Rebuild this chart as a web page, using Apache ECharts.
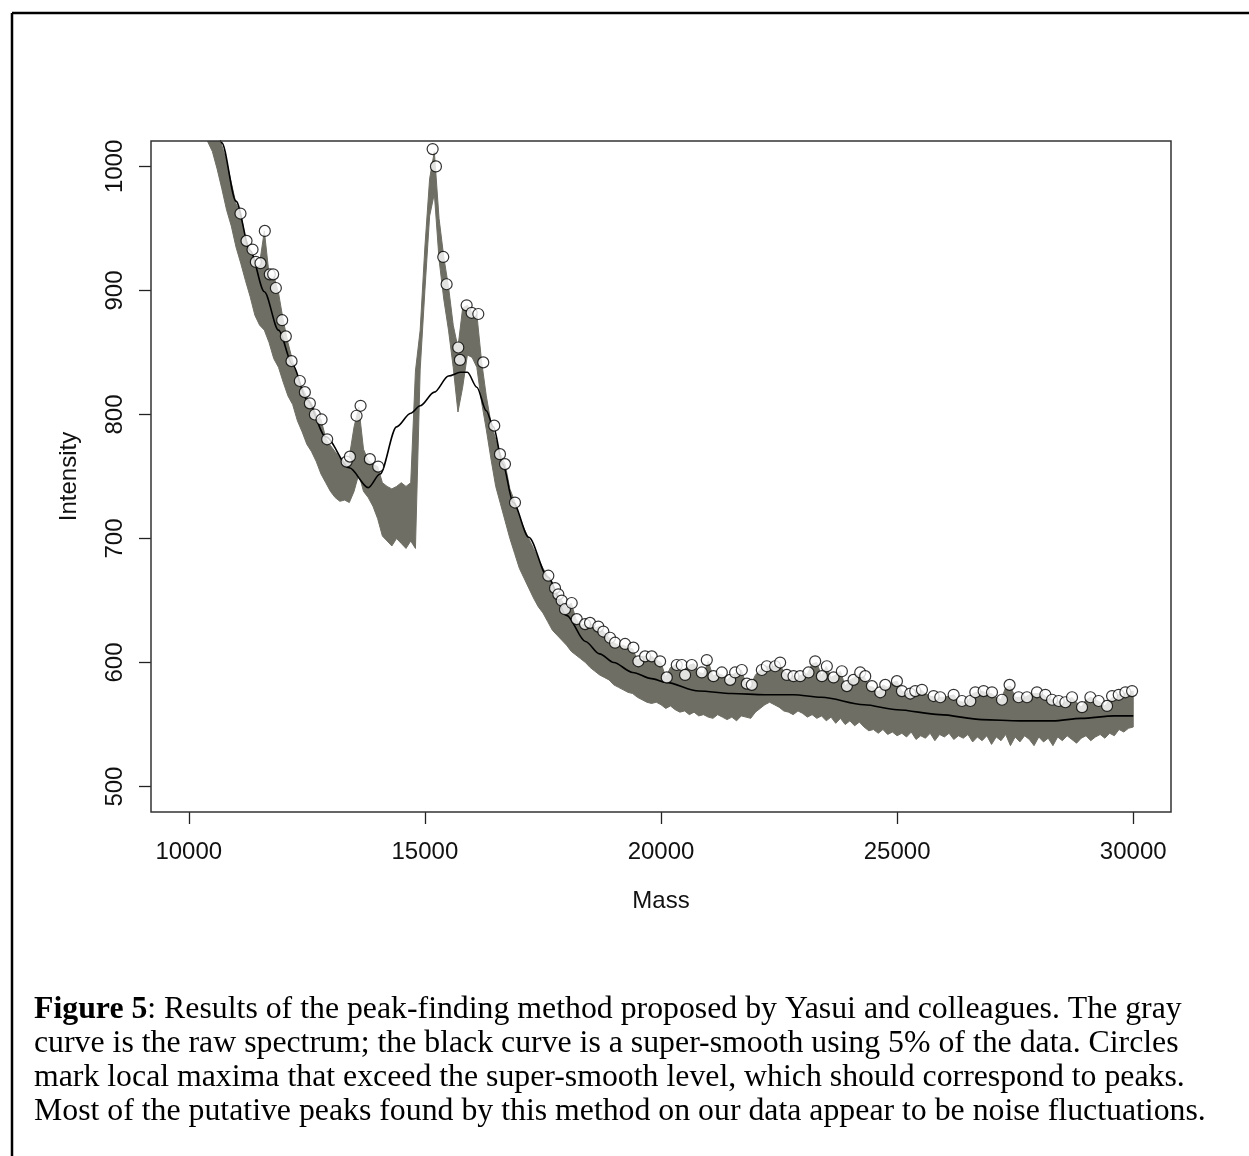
<!DOCTYPE html>
<html>
<head>
<meta charset="utf-8">
<script src="https://cdn.jsdelivr.net/npm/echarts@6.0.0/dist/echarts.min.js"></script>
<style>
  html, body { margin: 0; padding: 0; background: #fff; }
  #chart { width: 1249px; height: 1156px; }
</style>
</head>
<body>
<div id="chart"></div>
<script>
// raw spectrum, sampled every 100 Da from 10000 to 30000 (upper / lower edge of the gray trace)
var massStart = 10000;
var massStep = 100;
var rawHigh = [
  1112, 1097, 1083, 1069, 1055, 1042, 1030, 1017, 1004, 987,
  970, 962, 942, 933, 923, 922, 948, 913, 912, 898,
  876, 858, 843, 830, 822, 814, 809, 800, 796, 781,
  775, 770, 765, 762, 766, 790, 806, 772, 763, 760,
  758, 745, 742, 740, 742, 745, 742, 745, 835, 868,
  935, 990, 1012, 958, 927, 903, 872, 854, 886, 888,
  882, 881, 843, 815, 793, 780, 768, 760, 740, 730,
  718, 708, 700, 692, 684, 676, 670, 662, 656, 650,
  644, 648, 635, 630, 631, 632, 628, 629, 624, 620,
  616, 614, 614, 612, 611, 602, 605, 605, 605, 602,
  600, 588, 596, 598, 597, 593, 598, 599, 592, 591,
  601, 589, 591, 590, 586, 590, 592, 594, 583, 582,
  590, 594, 597, 597, 597, 599, 593, 590, 589, 589,
  590, 591, 599, 600, 589, 597, 588, 590, 593, 581,
  586, 588, 591, 589, 581, 580, 576, 582, 580, 584,
  585, 577, 575, 575, 577, 578, 575, 573, 572, 572,
  572, 573, 574, 569, 568, 569, 575, 576, 577, 575,
  575, 572, 570, 580, 581, 572, 572, 572, 574, 575,
  575, 574, 571, 570, 569, 567, 569, 572, 568, 564,
  570, 572, 570, 568, 565, 570, 573, 574, 575, 576,
  577
];
var rawLow = [
  1072, 1060, 1046, 1033, 1020, 1012, 998, 982, 965, 952,
  935, 922, 908, 895, 880, 872, 868, 858, 845, 838,
  826, 815, 808, 795, 786, 776, 770, 762, 752, 745,
  738, 733, 730, 731, 729, 738, 752, 738, 733, 726,
  716, 702, 698, 694, 700, 696, 692, 698, 692, 836,
  900, 960, 978, 925, 893, 868, 838, 802, 822, 848,
  846, 838, 810, 788, 764, 742, 728, 714, 700, 688,
  676, 668, 660, 652, 645, 640, 633, 626, 622, 618,
  614, 609, 606, 603, 600, 596, 593, 590, 588, 586,
  582, 580, 578, 576, 575, 572, 570, 568, 567, 568,
  566, 563, 565, 562, 560, 561, 558, 560, 557, 558,
  556, 555, 558, 556, 554, 556, 553, 557, 556, 555,
  560, 563, 566, 568, 566, 564, 561, 560, 558, 561,
  559, 556, 558, 555, 557, 553, 556, 551, 555, 550,
  553, 549, 552, 548, 545, 546, 543, 546, 542, 544,
  541, 543, 540, 544, 538, 541, 539, 543, 537, 542,
  540, 543, 538, 541, 539, 542, 536, 540, 537, 541,
  534, 540, 537, 542, 533, 540, 536, 541, 538, 533,
  540, 536, 539, 533, 540, 537, 541, 538, 535, 539,
  541, 537, 540, 542, 539, 543, 541, 546, 544, 547,
  548
];

// super-smooth curve
var smoothMass = [10000, 10500, 10700, 11000, 11300, 11600, 11900, 12200, 12500, 12900,
  13400, 13800, 14050, 14400, 14700, 14900, 15200, 15500, 15750, 15900,
  16100, 16300, 16450, 16650, 16870, 17200, 17600, 18000, 18400, 18700,
  19000, 19400, 19800, 20100, 20800, 21500, 22200, 22800, 23400, 24300,
  25000, 25900, 26800, 27600, 28300, 28900, 29600, 30000];
var smoothLevel = [1115, 1045, 1019, 972, 932, 899, 868, 840, 812, 782,
  757, 741, 752, 790, 801, 807, 818, 831, 834, 834,
  822, 803, 790, 760, 729, 701, 669, 638, 617, 607,
  600, 592, 587, 584, 577, 575, 574, 574, 572, 566,
  562, 558, 554, 553, 553, 555, 557, 557];

// local maxima above the smooth (circles)
var peakMass = [11095, 11223, 11350, 11420, 11519, 11610, 11716, 11787, 11844, 11978,
  12055, 12176, 12352, 12458, 12564, 12670, 12812, 12931, 13342, 13412,
  13553, 13638, 13835, 14011, 15164, 15234, 15389, 15460, 15707, 15742,
  15884, 15990, 16131, 16236, 16469, 16590, 16696, 16908, 17614, 17756,
  17826, 17897, 17967, 18109, 18215, 18391, 18497, 18673, 18779, 18921,
  19027, 19239, 19415, 19521, 19663, 19804, 19981, 20122, 20334, 20440,
  20510, 20652, 20864, 20970, 21111, 21288, 21464, 21570, 21711, 21817,
  21923, 22135, 22241, 22417, 22523, 22665, 22806, 22947, 23123, 23265,
  23407, 23512, 23654, 23830, 23936, 24077, 24219, 24325, 24466, 24643,
  24749, 24996, 25102, 25278, 25384, 25526, 25773, 25914, 26197, 26373,
  26550, 26656, 26832, 27009, 27221, 27382, 27573, 27750, 27962, 28139,
  28281, 28422, 28563, 28704, 28916, 29093, 29268, 29446, 29552, 29693,
  29834, 29976];
var peakLevel = [962, 940, 933, 923, 922, 948, 913, 913, 902, 876,
  863, 843, 827, 818, 809, 800, 796, 780, 762, 766,
  799, 807, 764, 758, 1014, 1000, 927, 905, 854, 844,
  888, 882, 881, 842, 791, 768, 760, 729, 670, 660,
  655, 650, 643, 648, 635, 631, 632, 629, 625, 620,
  616, 615, 612, 601, 605, 605, 601, 588, 598, 598,
  590, 598, 592, 602, 589, 592, 586, 592, 594, 583,
  582, 594, 597, 597, 600, 590, 589, 589, 592, 601,
  589, 597, 588, 593, 581, 586, 592, 589, 581, 576,
  582, 585, 577, 575, 577, 578, 573, 572, 574, 569,
  569, 576, 577, 576, 570, 582, 572, 572, 576, 574,
  570, 569, 568, 572, 564, 572, 569, 565, 573, 574,
  576, 577];

var xTicks = [10000, 15000, 20000, 25000, 30000];
var yTicks = [500, 600, 700, 800, 900, 1000];

var captionLines = [
  '{b|Figure 5}: Results of the peak-finding method proposed by Yasui and colleagues. The gray',
  'curve is the raw spectrum; the black curve is a super-smooth using 5% of the data. Circles',
  'mark local maxima that exceed the super-smooth level, which should correspond to peaks.',
  'Most of the putative peaks found by this method on our data appear to be noise fluctuations.'
];

var rawColor = '#6e6e64';
var axisFont = 'Liberation Sans, Arial, Helvetica, sans-serif';
var serifFont = 'Liberation Serif, Times New Roman, serif';

var chart = echarts.init(document.getElementById('chart'), null, { renderer: 'canvas' });

var rawMass = rawHigh.map(function (v, i) { return massStart + i * massStep; });
var rawData = rawMass.map(function (m, i) { return [m, rawHigh[i], rawLow[i]]; });
var smoothData = smoothMass.map(function (m, i) { return [m, smoothLevel[i]]; });
var peakData = peakMass.map(function (m, i) { return [m, peakLevel[i]]; });

// gray trace: one polygon, upper edge forward and lower edge back
function renderRaw(params, api) {
  if (params.dataIndex !== 0) return null;
  var pts = [];
  for (var i = 0; i < rawMass.length; i++) pts.push(api.coord([rawMass[i], rawHigh[i]]));
  for (var j = rawMass.length - 1; j >= 0; j--) pts.push(api.coord([rawMass[j], rawLow[j]]));
  return {
    type: 'polygon',
    shape: { points: pts },
    style: { fill: rawColor, stroke: rawColor, lineWidth: 1 }
  };
}

var graphics = [
  { type: 'line', shape: { x1: 12, y1: 13, x2: 1249, y2: 13 }, style: { stroke: '#000', lineWidth: 2.5 } },
  { type: 'line', shape: { x1: 12, y1: 13, x2: 12, y2: 1156 }, style: { stroke: '#000', lineWidth: 2.5 } }
];
captionLines.forEach(function (line, i) {
  graphics.push({
    type: 'text',
    left: 34,
    top: 994 + i * 34,
    style: {
      text: line,
      fill: '#000',
      fontFamily: serifFont,
      fontSize: 31.8,
      rich: {
        b: { fontWeight: 'bold', fontFamily: serifFont, fontSize: 31.8, fill: '#000' }
      }
    }
  });
});

function plainNumber(v) { return String(v); }

var option = {
  backgroundColor: '#fff',
  animation: false,
  grid: {
    left: 151, top: 141, width: 1020, height: 671,
    show: true, z: 10,
    borderColor: '#333', borderWidth: 1.5,
    backgroundColor: 'transparent'
  },
  xAxis: {
    type: 'value',
    min: 9200,
    max: 30800,
    axisLine: { show: false },
    splitLine: { show: false },
    axisTick: { show: true, length: 12, customValues: xTicks, lineStyle: { color: '#222', width: 1.3 } },
    axisLabel: { customValues: xTicks, formatter: plainNumber, margin: 28, fontSize: 24, color: '#111', fontFamily: axisFont },
    name: 'Mass',
    nameLocation: 'middle',
    nameGap: 77,
    nameTextStyle: { fontSize: 24, color: '#111', fontFamily: axisFont }
  },
  yAxis: {
    type: 'value',
    min: 479.5,
    max: 1020.5,
    axisLine: { show: false },
    splitLine: { show: false },
    axisTick: { show: true, length: 12, customValues: yTicks, lineStyle: { color: '#222', width: 1.3 } },
    axisLabel: { customValues: yTicks, formatter: plainNumber, rotate: 90, margin: 24, fontSize: 24, color: '#111', fontFamily: axisFont },
    name: 'Intensity',
    nameLocation: 'middle',
    nameRotate: 90,
    nameGap: 70,
    nameTextStyle: { fontSize: 24, color: '#111', fontFamily: axisFont }
  },
  graphic: graphics,
  series: [
    {
      name: 'raw spectrum',
      type: 'custom',
      data: rawData,
      encode: { x: 0, y: 1 },
      renderItem: renderRaw,
      clip: true,
      silent: true,
      z: 2
    },
    {
      name: 'smooth',
      type: 'line',
      data: smoothData,
      symbol: 'none',
      smooth: 0.3,
      smoothMonotone: 'x',
      silent: true,
      lineStyle: { color: '#000', width: 1.6 },
      z: 3
    },
    {
      name: 'peaks',
      type: 'scatter',
      data: peakData,
      symbol: 'circle',
      symbolSize: 11,
      silent: true,
      itemStyle: { color: '#fff', borderColor: '#000', borderWidth: 1.2 },
      z: 4
    }
  ]
};

chart.setOption(option);
</script>
</body>
</html>
